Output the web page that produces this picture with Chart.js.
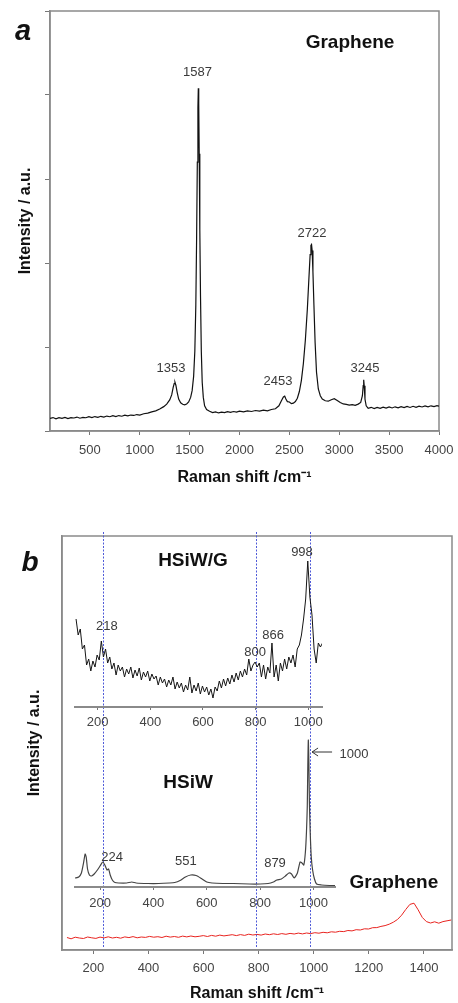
<!DOCTYPE html>
<html>
<head>
<meta charset="utf-8">
<title>Raman spectra</title>
<script src="https://cdn.jsdelivr.net/npm/chart.js@4.4.1/dist/chart.umd.min.js"></script>
<style>
  html, body { margin: 0; padding: 0; background: #fff; }
  #page { position: relative; width: 458px; height: 1003px; overflow: hidden; }
  canvas { position: absolute; left: 0; }
</style>
</head>
<body>
<div id="page">
  <canvas id="chartA" width="458" height="490" style="top:0"></canvas>
  <canvas id="chartB" width="458" height="503" style="top:500px"></canvas>
  <canvas id="insetG" width="458" height="503" style="top:500px"></canvas>
  <canvas id="insetW" width="458" height="503" style="top:500px"></canvas>
</div>
<script>
// ---- panel a : graphene, full range ----
const shiftA = [100,130,160,190,220,250,280,310,340,370,400,430,460,490,520,550,580,610,640,670,
  700,730,760,790,820,850,880,910,940,970,1000,1040,1080,1120,1160,1200,1240,1270,1300,1320,
  1335,1345,1353,1362,1375,1390,1410,1430,1450,1470,1490,1510,1525,1540,1552,1562,1570,1577,1583,1587,
  1591,1596,1602,1609,1617,1626,1637,1650,1670,1700,1730,1760,1790,1820,1850,1880,1910,1940,1970,2000,
  2040,2080,2120,2160,2200,2240,2280,2320,2360,2395,2420,2440,2453,2465,2480,2500,2520,2540,2560,2580,
  2600,2620,2640,2660,2680,2695,2708,2716,2722,2728,2736,2746,2758,2772,2790,2810,2830,2860,2890,2920,
  2950,2980,3010,3040,3070,3100,3130,3160,3190,3215,3232,3240,3245,3250,3258,3270,3290,3320,3350,3380,
  3410,3440,3470,3500,3530,3560,3590,3620,3650,3680,3710,3740,3770,3800,3830,3860,3890,3920,3950,3980,4000];
const intensityA = [.150,.160,.145,.158,.150,.162,.148,.160,.155,.166,.152,.163,.158,.170,.160,.172,.163,.175,.166,.178,
  .170,.182,.172,.184,.176,.188,.180,.190,.185,.196,.190,.205,.212,.228,.240,.262,.290,.320,.370,.430,
  .520,.565,.580,.545,.460,.380,.335,.318,.312,.322,.345,.400,.480,.650,.950,1.50,2.30,3.20,3.85,4.08,
  3.90,3.30,2.40,1.60,.950,.580,.400,.300,.255,.235,.220,.228,.215,.224,.218,.230,.222,.232,.225,.236,
  .228,.240,.232,.244,.236,.248,.240,.256,.265,.300,.360,.405,.415,.380,.350,.345,.325,.332,.350,.390,
  .470,.600,.800,1.08,1.45,1.80,2.10,2.21,2.22,2.15,1.90,1.50,1.05,.700,.500,.420,.380,.360,.355,.372,
  .385,.362,.340,.322,.316,.308,.314,.305,.320,.340,.420,.540,.610,.540,.380,.300,.270,.282,.266,.280,
  .270,.284,.272,.286,.274,.288,.276,.290,.278,.292,.280,.294,.282,.296,.286,.298,.288,.300,.290,.302,.296];
const ticksA = [500,1000,1500,2000,2500,3000,3500,4000];
const yTicksA = [0,1,2,3,4,5];
const peaksA = [
  { text: '1587', x: 1579, y: 4.27 },
  { text: '1353', x: 1313, y: 0.75 },
  { text: '2453', x: 2386, y: 0.59 },
  { text: '2722', x: 2727, y: 2.35 },
  { text: '3245', x: 3258, y: 0.75 }
];

// ---- panel b : graphene (red), low range ----
const grapheneBStart = 104, grapheneBStep = 15;
const grapheneB = [12.5,11.2,12.8,12.0,11.5,13.0,12.2,11.6,12.9,12.1,13.2,12.0,12.7,11.8,13.1,12.4,13.4,12.2,13.0,12.6,
  13.6,12.8,13.3,12.5,13.8,12.9,13.5,12.7,13.9,13.1,14.0,13.2,13.7,14.4,13.5,14.6,13.8,14.9,14.1,14.7,
  15.3,14.4,15.4,14.6,15.8,15.0,15.6,14.9,16.0,15.3,16.2,15.5,16.4,15.7,16.6,16.0,16.9,16.1,17.0,16.4,
  17.3,16.8,17.7,17.2,18.2,17.8,18.7,18.4,19.5,19.1,20.3,20.0,21.2,21.0,22.3,22.4,23.6,24.4,25.8,27.8,
  30.5,34.8,40.5,45.6,46.8,40.2,32.6,28.4,27.0,28.2,26.8,28.4,29.2,30.0];
const ticksB = [200,400,600,800,1000,1200,1400];
const guideLinesB = [234, 789, 985];

// inset HSiW/G
const hsiwgStart = 118, hsiwgStep = 8;
const hsiwgIntensity = [88,72,78,58,62,42,48,36,46,40, 52,47,66,50,58,44,50,38,44,32,
  42,36,40,30,38,33,40,29,37,31, 39,27,35,30,36,26,33,28,31,22,
  30,24,28,20,27,22,30,18,25,19, 24,15,22,17,30,14,22,16,24,13,
  21,15,20,12,18,9,20,16,26,19, 28,21,29,23,32,25,34,27,36,30,
  38,32,48,36,42,45,40,44,30,42, 28,40,34,64,30,42,26,44,36,48,
  38,50,44,52,40,58,62,72,88,108, 146,110,92,58,44,64,60,64];
const ticksInset = [200,400,600,800,1000];

// inset HSiW
const shiftW = [106,120,130,138,144,148,153,160,168,178,190,200,210,218,226,232,238,246,256,270,
  300,319,335,380,420,460,480,500,520,540,560,580,600,620,660,700,760,800,830,850,
  863,880,895,908,918,928,940,950,957,964,970,974,977,979,981,983,985,988,992,997,
  1004,1012,1030,1060,1081];
const intensityW = [9,10,14,24,33,30,18,12,11,13,17,21,25,22,17,18,12,7,4.5,4,
  4,5,4,3.5,3.5,4,4.5,6.5,10,12,11.5,8.5,5,4,3.5,3.5,3,3,3.5,5,
  7,8,11,14,13,9,14,25,24,22,35,55,80,120,147,125,85,55,30,17,
  8,3,2,1.5,1.5];

const FONT = 'Liberation Sans, Arial, sans-serif';
Chart.defaults.font.family = FONT;

// box round the plot area
const framePlugin = {
    id: 'frame',
    beforeDatasetsDraw(chart) {
        const { ctx, chartArea: { left, top, right, bottom } } = chart;
        ctx.save();
        ctx.strokeStyle = '#8a8a8a';
        ctx.lineWidth = 1.5;
        ctx.strokeRect(left, top, right - left, bottom - top);
        ctx.restore();
    }
};

// free text placed in data coordinates (or canvas px when px is set)
const notesPlugin = {
    id: 'notes',
    afterDraw(chart, args, opts) {
        const ctx = chart.ctx;
        const xs = chart.scales.x, ys = chart.scales.y;
        ctx.save();
        ctx.textAlign = 'center';
        ctx.textBaseline = 'middle';
        (opts.items || []).forEach(n => {
            const px = n.px ? n.px[0] : xs.getPixelForValue(n.x);
            const py = n.px ? n.px[1] : ys.getPixelForValue(n.y);
            ctx.font = n.font || ('13px ' + FONT);
            ctx.fillStyle = n.color || '#3a3a3a';
            ctx.fillText(n.text, px, py);
        });
        if (opts.arrow) {
            const a = opts.arrow;
            const x1 = xs.getPixelForValue(a.from), x2 = xs.getPixelForValue(a.to), y = ys.getPixelForValue(a.y);
            ctx.strokeStyle = '#333';
            ctx.lineWidth = 1;
            ctx.beginPath();
            ctx.moveTo(x1, y); ctx.lineTo(x2, y);
            ctx.moveTo(x2 + 6, y - 4); ctx.lineTo(x2, y); ctx.lineTo(x2 + 6, y + 4);
            ctx.stroke();
        }
        ctx.restore();
    }
};

// blue dotted guides across panel b
const guidesPlugin = {
    id: 'guides',
    afterDatasetsDraw(chart) {
        const { ctx, chartArea: { top, bottom } } = chart;
        const xs = chart.scales.x;
        ctx.save();
        ctx.strokeStyle = '#4f5ad8';
        ctx.lineWidth = 1;
        ctx.setLineDash([2, 1.5]);
        guideLinesB.forEach(v => {
            const x = Math.round(xs.getPixelForValue(v)) + 0.5;
            ctx.beginPath();
            ctx.moveTo(x, top - 4);
            ctx.lineTo(x, bottom - 3);
            ctx.stroke();
        });
        ctx.restore();
    }
};

function fixedTicks(list) {
    return scale => { scale.ticks = list.map(v => ({ value: v })); };
}
// fixed axis height, and no extra room reserved for the end labels
function fixedHeight(h) {
    return scale => { scale.height = h; scale.paddingLeft = 0; scale.paddingRight = 0; };
}
const plainLabel = v => String(v);   // no thousands separator

const tickFont = { family: FONT, size: 13 };
const titleFont = { family: FONT, size: 16, weight: 'bold' };

// panel a
new Chart(document.getElementById('chartA'), {
    type: 'line',
    data: {
        datasets: [{
            data: shiftA.map((x, i) => ({ x: x, y: intensityA[i] })),
            borderColor: '#111',
            borderWidth: 1.2,
            pointRadius: 0,
            tension: 0
        }]
    },
    options: {
        responsive: false,
        animation: false,
        layout: { padding: { top: 11, right: 19, left: 0, bottom: 0 } },
        plugins: {
            legend: { display: false },
            tooltip: { enabled: false },
            notes: {
                items: peaksA.concat([
                    { text: 'Graphene', x: 3108, y: 4.62, font: 'bold 19px ' + FONT, color: '#111' },
                    { text: 'a', px: [23, 32], font: 'italic bold 29px ' + FONT, color: '#111' }
                ])
            }
        },
        scales: {
            x: {
                type: 'linear', min: 100, max: 4000,
                afterBuildTicks: fixedTicks(ticksA),
                afterFit: fixedHeight(59),
                grid: { drawOnChartArea: false, tickLength: 4, color: '#777' },
                border: { color: '#8a8a8a', width: 1.5 },
                ticks: { font: tickFont, color: '#444', padding: 8, maxRotation: 0, autoSkip: false, callback: plainLabel },
                title: { display: true, text: 'Raman shift /cm⁻¹', font: titleFont, color: '#111', padding: { top: 0, bottom: 3 } }
            },
            y: {
                min: 0, max: 5,
                afterBuildTicks: fixedTicks(yTicksA),
                afterFit: s => { s.width = 50; },
                grid: { drawOnChartArea: false, tickLength: 5, color: '#777' },
                border: { color: '#8a8a8a', width: 1.5 },
                ticks: { display: false },
                title: { display: true, text: 'Intensity / a.u.', font: titleFont, color: '#111', padding: { top: 16, bottom: 0 } }
            }
        }
    },
    plugins: [framePlugin, notesPlugin]
});

// panel b, main axes with the red graphene trace
new Chart(document.getElementById('chartB'), {
    type: 'line',
    data: {
        datasets: [{
            data: grapheneB.map((y, i) => ({ x: grapheneBStart + i * grapheneBStep, y: y })),
            borderColor: '#e8231f',
            borderWidth: 1,
            pointRadius: 0,
            tension: 0
        }]
    },
    options: {
        responsive: false,
        animation: false,
        layout: { padding: { top: 36, right: 6, left: 0, bottom: 0 } },
        plugins: {
            legend: { display: false },
            tooltip: { enabled: false },
            notes: {
                items: [
                    { text: 'Graphene', x: 1291, y: 67, font: 'bold 19px ' + FONT, color: '#111' },
                    { text: 'b', px: [30, 63], font: 'italic bold 28px ' + FONT, color: '#111' }
                ]
            }
        },
        scales: {
            x: {
                type: 'linear', min: 86, max: 1502,
                afterBuildTicks: fixedTicks(ticksB),
                afterFit: fixedHeight(53),
                grid: { drawOnChartArea: false, tickLength: 4, color: '#777' },
                border: { color: '#8a8a8a', width: 1.5 },
                ticks: { font: tickFont, color: '#444', padding: 7, maxRotation: 0, autoSkip: false, callback: plainLabel },
                title: { display: true, text: 'Raman shift /cm⁻¹', font: titleFont, color: '#111', padding: { top: 0, bottom: 0 } }
            },
            y: {
                min: 0, max: 414,
                afterFit: s => { s.width = 62; },
                grid: { display: false },
                border: { color: '#8a8a8a', width: 1.5 },
                ticks: { display: false },
                title: { display: true, text: 'Intensity / a.u.', font: titleFont, color: '#111', padding: { top: 25, bottom: 0 } }
            }
        }
    },
    plugins: [framePlugin, guidesPlugin, notesPlugin]
});

function insetScales(xmin, xmax, ymax, tickPad) {
    return {
        x: {
            type: 'linear', min: xmin, max: xmax,
            afterBuildTicks: fixedTicks(ticksInset),
            afterFit: fixedHeight(24),
            grid: { drawOnChartArea: false, tickLength: 3, color: '#777' },
            border: { color: '#8a8a8a', width: 2 },
            ticks: { font: tickFont, color: '#444', padding: tickPad, maxRotation: 0, autoSkip: false, callback: plainLabel }
        },
        y: { display: false, min: 0, max: ymax }
    };
}

// inset HSiW/G
new Chart(document.getElementById('insetG'), {
    type: 'line',
    data: {
        datasets: [{
            data: hsiwgIntensity.map((y, i) => ({ x: hsiwgStart + i * hsiwgStep, y: y })),
            borderColor: '#151515',
            borderWidth: 1,
            pointRadius: 0,
            tension: 0
        }]
    },
    options: {
        responsive: false,
        animation: false,
        layout: { padding: { top: 40, right: 136, left: 75, bottom: 272 } },
        plugins: {
            legend: { display: false },
            tooltip: { enabled: false },
            notes: {
                items: [
                    { text: 'HSiW/G', x: 562, y: 146, font: 'bold 19px ' + FONT, color: '#111' },
                    { text: '998', x: 976, y: 155 },
                    { text: '218', x: 235, y: 81 },
                    { text: '866', x: 866, y: 72 },
                    { text: '800', x: 798, y: 55 }
                ]
            }
        },
        scales: insetScales(114, 1052, 167, 5)
    },
    plugins: [notesPlugin]
});

// inset HSiW
new Chart(document.getElementById('insetW'), {
    type: 'line',
    data: {
        datasets: [{
            data: shiftW.map((x, i) => ({ x: x, y: intensityW[i] })),
            borderColor: '#444',
            borderWidth: 1.2,
            pointRadius: 0,
            tension: 0.2
        }]
    },
    options: {
        responsive: false,
        animation: false,
        layout: { padding: { top: 230, right: 123, left: 75, bottom: 92 } },
        plugins: {
            legend: { display: false },
            tooltip: { enabled: false },
            notes: {
                items: [
                    { text: 'HSiW', x: 530, y: 104, font: 'bold 19px ' + FONT, color: '#111' },
                    { text: '1000', x: 1152, y: 133 },
                    { text: '224', x: 245, y: 30 },
                    { text: '551', x: 522, y: 26 },
                    { text: '879', x: 856, y: 24 }
                ],
                arrow: { from: 1070, to: 995, y: 135 }
            }
        },
        scales: insetScales(106, 1081, 157, 6)
    },
    plugins: [notesPlugin]
});
</script>
</body>
</html>
